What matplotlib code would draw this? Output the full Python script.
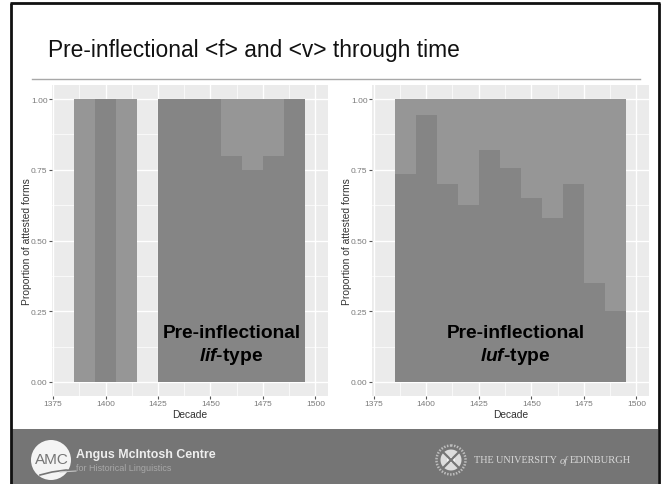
import numpy as np
import matplotlib
matplotlib.use("Agg")
import matplotlib.pyplot as plt
from matplotlib.patches import Circle, Rectangle

plt.rcParams['font.family'] = ['Liberation Sans', 'DejaVu Sans']
plt.rcParams['mathtext.fontset'] = 'custom'
plt.rcParams['mathtext.bfit'] = 'Liberation Sans:italic:bold'

# decades and proportion of <f>
lif_decades = [1390, 1400, 1410, 1430, 1440, 1450, 1460, 1470, 1480, 1490]
lif_dark = [0, 1, 0, 1, 1, 1, 0.8, 0.75, 0.8, 1]
luf_decades = [1390, 1400, 1410, 1420, 1430, 1440, 1450, 1460, 1470, 1480, 1490]
luf_dark = [0.735, 0.945, 0.70, 0.625, 0.82, 0.755, 0.65, 0.58, 0.70, 0.35, 0.25]

x_ticks = [1375, 1400, 1425, 1450, 1475, 1500]
y_ticks = [0, 0.25, 0.5, 0.75, 1]
y_labels = ["0.00", "0.25", "0.50", "0.75", "1.00"]

W, H = 664, 485
DARK = "#858585"
LIGHT = "#969696"


def px_axes(left, right, top, bottom):
    return fig.add_axes([left / W, 1 - bottom / H, (right - left) / W, (bottom - top) / H])


def panel(ax, decades, dark, xlim, word, word_x):
    dark = np.array(dark)
    ax.set_facecolor("#ebebeb")
    ax.set_xlim(*xlim)
    ax.set_ylim(-0.05, 1.05)
    ax.set_axisbelow(True)
    ax.set_xticks(x_ticks)
    ax.set_yticks(y_ticks)
    ax.set_yticklabels(y_labels)
    ax.set_xticks(np.array(x_ticks[:-1]) + 12.5, minor=True)
    ax.set_yticks(np.array(y_ticks[:-1]) + 0.125, minor=True)
    ax.grid(which="major", color="white", lw=1.0)
    ax.grid(which="minor", color="white", lw=0.5)
    ax.tick_params(which="minor", length=0)
    ax.tick_params(which="major", length=2, width=0.8, color="#555555",
                   labelcolor="#7a7a7a", labelsize=6.0, pad=1.2)
    for s in ax.spines.values():
        s.set_visible(False)
    ax.bar(decades, dark, width=10, color=DARK, linewidth=0)
    ax.bar(decades, 1 - dark, width=10, bottom=dark, color=LIGHT, linewidth=0)
    ax.set_xlabel("Decade", fontsize=7.4, color="#333333", labelpad=1)
    ax.set_ylabel("Proportion of attested forms", fontsize=7.4, color="#333333", labelpad=-0.5)
    ax.text(word_x, 0.174, "Pre-inflectional", ha="center", va="center",
            fontsize=13.8, fontweight="bold", color="black")
    ax.text(word_x, 0.092, r"$\mathbfit{" + word + "}$-type", ha="center", va="center",
            fontsize=13.8, fontweight="bold", color="black")


fig = plt.figure(figsize=(W / 100, H / 100), dpi=100, facecolor="white")

ax1 = px_axes(52, 328, 86, 397)
panel(ax1, lif_decades, lif_dark, (1374.5, 1506), "lif", 1460)

ax2 = px_axes(372, 649, 86, 397)
panel(ax2, luf_decades, luf_dark, (1374.2, 1506), "luf", 1442.5)

# slide furniture, in pixel coordinates
bg = fig.add_axes([0, 0, 1, 1], zorder=5)
bg.set_xlim(0, W)
bg.set_ylim(H, 0)
bg.axis("off")
bg.add_patch(Rectangle((12, 430), 646, 55, color="#757575", lw=0))
bg.plot([11, 11], [4, 485], color="#111111", lw=2, solid_capstyle="butt")
bg.plot([658.5, 658.5], [4, 485], color="#111111", lw=2, solid_capstyle="butt")
bg.plot([10, 660], [4, 4], color="#111111", lw=2, solid_capstyle="butt")
bg.plot([32, 640], [80, 80], color="#a8a8a8", lw=1)
bg.text(48, 50, "Pre-inflectional <f> and <v> through time", fontsize=16.35, color="#111111", va="center", ha="left")

# AMC logo
bg.add_patch(Circle((51, 461), 20, color="#f4f4f4", lw=0))
bg.text(52, 460, "AMC", fontsize=11, color="#757575", ha="center", va="center")
bg.plot([40, 52, 66, 76], [476, 473, 471, 472], color="#757575", lw=1.2)
bg.plot([60, 68, 76], [473, 472.5, 472], color="#c8c8c8", lw=0.8)
bg.text(76, 455, "Angus McIntosh Centre", fontsize=8.9, fontweight="bold", color="#eeeeee", va="center")
bg.text(76, 469, "for Historical Linguistics", fontsize=6.5, color="#a8a8a8", va="center")

# Edinburgh crest
bg.add_patch(Circle((451, 461), 14.5, fill=False, ec="#bdbdbd", lw=1.8, ls=(0, (0.6, 0.6))))
bg.add_patch(Circle((451, 461), 10.5, color="#dcdcdc", lw=0))
bg.plot([443, 459], [453, 469], color="#757575", lw=1.6)
bg.plot([443, 459], [469, 453], color="#757575", lw=1.6)
bg.add_patch(Rectangle((447, 458), 8, 6, color="#f2f2f2", lw=0))
bg.text(474, 460.5, "THE UNIVERSITY", family="Liberation Serif", fontsize=7.3, color="#d8d8d8", va="center")
bg.text(560, 461, "of", family="Liberation Serif", style="italic", fontsize=7.5, color="#d8d8d8", va="center")
bg.text(570, 460.5, "EDINBURGH", family="Liberation Serif", fontsize=7.6, color="#d8d8d8", va="center")

fig.savefig("out.png", dpi=100)
